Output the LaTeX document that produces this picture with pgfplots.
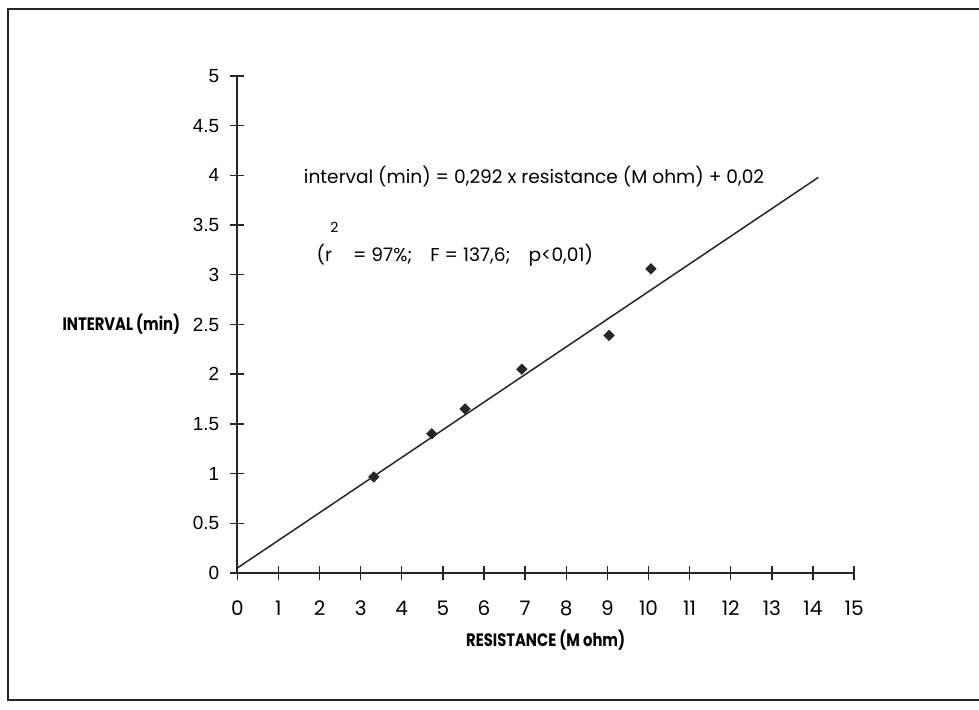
\documentclass[border=0pt]{standalone}
\usepackage{fontspec}
\setmainfont{Poppins}
\newfontfamily\arialfont{Liberation Sans}
\usepackage{pgfplots}
\pgfplotsset{compat=1.18}

\begin{document}
\begin{tikzpicture}
    \begin{axis}[
            scale only axis,
            width=308.4pt, height=248.5pt,
            xmin=0, xmax=15, ymin=0, ymax=5,
            axis x line=bottom, axis y line=left,
            axis line style={-, line width=1pt, black!85},
            xtick={0,...,15}, ytick={0,0.5,...,5},
            tick align=center, major tick length=7pt,
            tick style={line width=0.7pt, black!85},
            clip=false,
            /pgf/number format/assume math mode=true,
            xticklabel style={font=\fontsize{10}{12}\selectfont, yshift=-7pt},
            yticklabel style={font=\arialfont\fontsize{9.5}{11}\selectfont, xshift=-2pt},
        ]
        % regression line as drawn
        \addplot[line width=0.75pt, black!85] coordinates {(0,0.05) (14.13,3.98)};
        % measured points
        \addplot[only marks, mark=square*, mark size=1.8pt,
            mark options={rotate=45, fill=black!85, draw=black!85}]
        coordinates {(3.32,0.966) (4.73,1.40) (5.54,1.65) (6.92,2.05) (9.04,2.39) (10.06,3.06)};

        \node[anchor=base west, font=\fontsize{9.3}{11}\selectfont] at (axis cs:1.45,3.92)
            {interval (min) = 0,292 x resistance (M ohm) + 0,02};
        \node[anchor=base west, font=\fontsize{9.3}{11}\selectfont] at (axis cs:1.76,3.13)
            {(r\hspace{8pt} = 97\%;\hspace{9pt}F = 137,6;\hspace{9pt}p<0,01)};
        \node[font=\fontsize{7}{8}\selectfont] at (axis cs:2.36,3.48) {2};
        \node[anchor=east, font=\bfseries\fontsize{9}{10}\selectfont, xshift=-25pt]
            at (axis cs:0,2.5) {\scalebox{0.82}[1]{INTERVAL (min)}};
        \node[font=\bfseries\fontsize{9}{10}\selectfont, yshift=-33.5pt]
            at (axis cs:7.5,0) {\scalebox{0.82}[1]{RESISTANCE (M ohm)}};
    \end{axis}
    % scanned page frame
    \draw[line width=1.2pt, black!85] (373.85pt,282pt) -- (-114.65pt,282pt)
        -- (-114.65pt,-63.5pt) -- (373.85pt,-63.5pt);
    \pgfresetboundingbox
    \useasboundingbox (-118.65pt,-68.5pt) rectangle (370.85pt,286.5pt);
\end{tikzpicture}
\end{document}
